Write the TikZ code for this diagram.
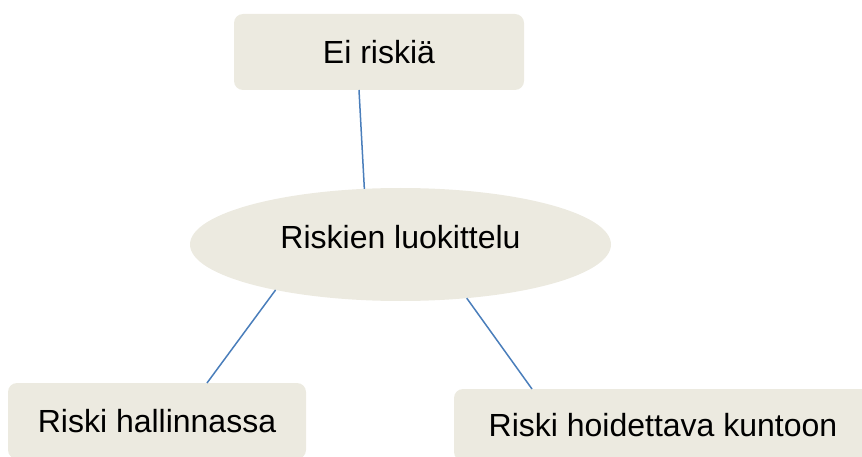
\documentclass[tikz,border=0pt]{standalone}
\usepackage{fontspec}
\setmainfont{Liberation Sans}
\usetikzlibrary{shapes.geometric}
\definecolor{boxfill}{RGB}{236,234,224}
\definecolor{linkblue}{RGB}{74,126,187}
\tikzset{
  box/.style={rectangle, rounded corners=9pt, fill=boxfill, draw=none, inner sep=0pt, outer sep=0pt,
    font=\fontsize{32}{38}\selectfont, text=black},
  oval/.style={ellipse, fill=boxfill, draw=none, inner sep=0pt, outer sep=0pt,
    font=\fontsize{32}{38}\selectfont, text=black},
  link/.style={draw=linkblue, line width=1.5pt}
}
\begin{document}
\begin{tikzpicture}[x=1pt,y=-1pt]
\useasboundingbox (0,0) rectangle (862,457);
\node[box, minimum width=290pt, minimum height=76pt] (top) at (379,52) {Ei riskiä};
\node[oval, minimum width=421pt, minimum height=113pt] (mid) at (400.5,244.5) {\smash{\raisebox{-4pt}{Riskien luokittelu}}};
\node[box, minimum width=298pt, minimum height=76pt] (bl) at (157,421) {Riski hallinnassa};
\node[box, minimum width=418pt, minimum height=72pt] (br) at (663,425) {Riski hoidettava kuntoon};
\draw[link] ([xshift=-20pt]top.south) -- (mid.123);
\draw[link] (mid.200) -- ([xshift=50pt]bl.north);
\draw[link] (mid.321) -- ([xshift=78pt]br.north west);
\end{tikzpicture}
\end{document}
